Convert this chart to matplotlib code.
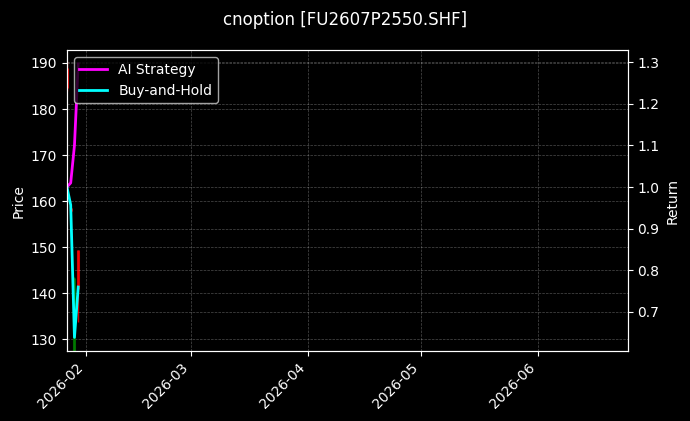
#!/usr/bin/env python3
import numpy as np
import pandas as pd
import matplotlib
matplotlib.use('Agg')
import matplotlib.pyplot as plt
import matplotlib.dates as mdates

# 일별 시세 (캔들) 및 누적 수익률
dates = pd.to_datetime(['2026-01-27', '2026-01-28', '2026-01-29', '2026-01-30'])
opens = [189.0, 158.4, 124.0, 149.3]
highs = [190.5, 158.6, 143.5, 149.3]
lows = [184.0, 157.6, 120.0, 133.7]
closes = [184.5, 157.8, 143.3, 141.0]

ai_strategy = [1.0, 1.01, 1.10, 1.296]
buy_hold = [1.0, 0.957, 0.639, 0.76]

x_start = pd.Timestamp('2026-01-27')
x_end = pd.Timestamp('2026-06-25')

plt.style.use('dark_background')
fig, ax1 = plt.subplots(figsize=(6.9, 4.21), dpi=100)
fig.subplots_adjust(left=0.097, right=0.910, top=0.881, bottom=0.166)

# 캔들 그리기
xs = mdates.date2num(dates)
for x, o, h, l, c in zip(xs, opens, highs, lows, closes):
    col = 'green' if c >= o else 'red'
    ax1.vlines(x, l, h, color=col, linewidth=1, alpha=0.8)
    ax1.vlines(x, min(o, c), max(o, c), color=col, linewidth=2.2, alpha=0.8)

ax1.set_ylabel('Price')
ax1.set_ylim(127.4, 192.8)
ax1.grid(True, linestyle='--', linewidth=0.5, alpha=0.3)

# 수익률 (오른쪽 축)
ax2 = ax1.twinx()
ax2.plot(dates, ai_strategy, color='magenta', linewidth=2, label='AI Strategy')
ax2.plot(dates, buy_hold, color='cyan', linewidth=2, label='Buy-and-Hold')
ax2.set_ylabel('Return')
ax2.set_ylim(0.606, 1.329)
ax2.grid(True, linestyle='--', linewidth=0.5, alpha=0.3)
ax2.legend(loc='upper left')

ax1.set_xlim(x_start, x_end)
ax1.xaxis.set_major_locator(mdates.MonthLocator())
ax1.xaxis.set_major_formatter(mdates.DateFormatter('%Y-%m'))
plt.setp(ax1.get_xticklabels(), rotation=45, ha='right')

fig.suptitle('cnoption [FU2607P2550.SHF]', fontsize=12, y=0.975)

plt.savefig('out.png', dpi=100)
